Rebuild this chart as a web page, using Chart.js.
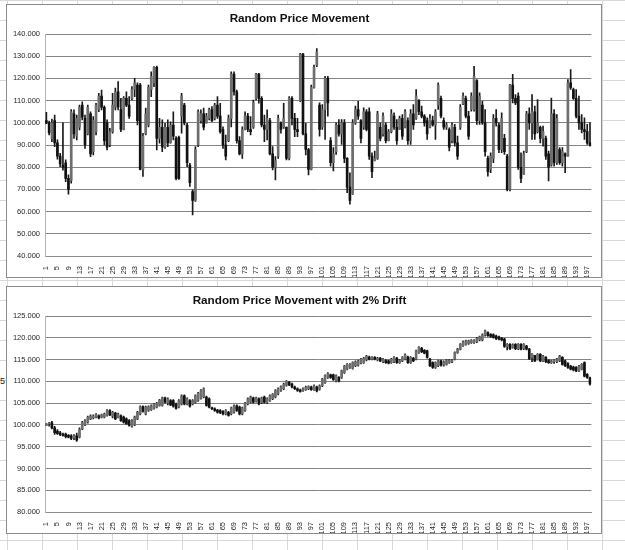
<!DOCTYPE html>
<html>
<head>
<meta charset="utf-8">
<script src="https://cdn.jsdelivr.net/npm/chart.js@4.4.1/dist/chart.umd.min.js"></script>
<style>
html, body { margin: 0; padding: 0; }
body {
  width: 625px; height: 550px; overflow: hidden; position: relative;
  background-color: #fff;
  background-image:
    linear-gradient(to right, #d9d9d9 1px, transparent 1px),
    linear-gradient(to bottom, #d9d9d9 1px, transparent 1px);
  background-size: 35px 20px;
  background-position: 7px 0;
}
.frame { position: absolute; left: 6px; width: 594px; background: #fff; border: 1px solid #8c8c8c; }
#frame1 { top: 4px; height: 272px; }
#frame2 { top: 286px; height: 246px; }
.cell { position: absolute; left: 0; top: 376px; font: 9px "Liberation Sans"; color: #222; }
</style>
</head>
<body>
<div class="cell">5</div>
<div class="frame" id="frame1"><canvas id="priceChart" width="594" height="272"></canvas></div>
<div class="frame" id="frame2"><canvas id="driftChart" width="594" height="246"></canvas></div>

<script>
// day numbers on the x axis
const days = Array.from({ length: 198 }, (_, i) => String(i + 1));

// chart 1 - random price movement (open / high / low / close)
const open1 = [
  101,100,93,101,91,85,81,82,75,74, 104,94,98,108,102,95,104,87,96,106,
  112,107,100,90,96,107,114,106,97,111, 108,111,115,117,117,79,95,99,115,118,
  125,93,98,89,98,91,99,93,93.5,103, 108,99,81,69,65,90,101,104,100,102,
  106,102,108,103,97,90,92,102,122,114, 92,86,97,103,97,98,111,122,111,99,
  97,101,86,80,85,100,98,98,84,111, 102,97,110,131,95,88,79,116,126,108,
  98,106,120,92,82,87,99,95,100,84, 71,68,100,106,101,98,105,105,85,83,
  84,98,95,99,92,96,103,98,97,102, 98,101,92,104,102,110,105,103,101,98,
  101,99,108,111,101,98,97,92,98,91, 98,108.5,111,103,106,106,119,101,108,100,
  84,79,84,102,99,88,93,85,70,117, 111,112,80,77,87,104,100,105,96,98,
  93,93,86,81,104,82,88,82,86,85, 118,115,111,103,100,97,96,91
];
const high1 = [
  104.7,100.8,101.7,103.5,92.3,86.3,100,83.3,76.6,106, 105.8,103.5,108,109.5,103.5,108,105,102.8,108.8,113.3,
  114.8,107.7,101.3,97.5,113.3,115.6,118.6,111,111.8,114, 111.8,116.3,120,118,117.8,95.3,106.6,117,123,125.3,
  125.6,102,101.3,99.8,101.3,100.5,105,93.8,94,113.3, 108.8,99.8,81.8,69.8,89.3,105.8,105.8,106.6,104.3,106.6,
  107.3,108.8,111.8,108.8,98.2,94.5,103.5,123,123,114.8, 93.8,98.2,105,104.3,102.8,110.3,122.3,122.3,111.8,103.5,
  105.8,102,89.3,84.8,103.5,100.5,108.8,98.2,111.8,111.8, 104.3,102,131.3,131.3,99.8,88.5,117,126,133.5,109,
  108.2,121,121,93.3,88.8,100,101.5,101.5,101.5,84.3, 77.5,101.5,107.5,109.7,101.5,106.7,106,106.7,86.5,87.3,
  105.2,100,104.5,100,97,106,104.5,101.5,103,103.7, 106,102.2,106,108.2,115,110.5,107.5,103.7,102.2,103.7,
  103,106,118,112,102.2,100,97.7,100,99.3,94, 108.2,113.5,112,105.2,113.5,125.5,119.5,113.5,109.7,106,
  85,86.5,103.7,106,100,104.5,94.8,85.8,117.3,121.8, 112.7,113.5,86.5,87.3,105.2,106.7,112.7,107.5,110.5,98.5,
  98.5,94,87.3,111.2,106,103.7,88.8,88.8,86.5,119.5, 124,115.7,115,112,103.7,102.2,99.3,100
];
const low1 = [
  99.6,94.5,91.5,89.3,83.6,80.3,78.7,73.5,67.9,72.8, 93,92.3,96.8,101.3,88.5,94.5,84.8,85.5,94.5,105,
  105.8,90,87.8,89.3,95.3,105.8,105.8,96,96.8,107.3, 102,110.3,111.8,99,78.8,75.8,94.5,98.2,111.8,116.3,
  87.8,90.8,87,88.5,89.3,90.8,92.3,74.3,74.5,95.3, 99,80.3,71.3,58.5,64.6,89.3,99.8,96.8,99.8,101.3,
  100.5,101.3,102,95.3,88.5,83.3,91.5,98.2,112.5,90.8, 85.5,84,96.8,96,94.5,97.5,110.3,108.8,98.2,91.5,
  92.3,85.5,78.8,74.3,84,95.3,97.5,83.3,83.3,99, 93.8,93.8,109.5,94.5,85.5,76.5,78.8,115.6,125.3,94,
  97,92.5,103,80.5,78.3,85.8,94,90.3,82,68.5, 63.3,67.8,99.3,101.5,91,97,96.3,83.5,75.3,82.8,
  83.5,91.8,94,91,91.8,95.5,97,90.3,97,92.5, 97.7,90.3,90.3,97,101.5,103.7,102.2,98.5,92.5,97.7,
  98.5,92.5,106,102.2,97,97,87.3,91,89.5,83.5, 97,108.2,102.2,92.5,105.2,105.2,99.3,99.3,99.3,85,
  76,77.5,82,98.5,86.5,86.5,85.8,69.3,69.3,109, 108.2,79,73,76.8,86.5,97,92.5,92.5,95.5,91,
  89.5,83.5,73.8,80.5,80.5,81.3,81.3,80.5,77.5,85, 115,110.5,102.2,97,95.5,92.5,90.3,89.5
];
const close1 = [
  100,95.5,100,91,85,81.5,80,75,70,105, 95,102,107,102.5,90,107,86,101,108,112,
  107,92,89,96,108,114,107,97,111,108, 103,115,118,101,79,94,104,116,121,125,
  93,98,89,98,91,99,94,75,75,112, 100,82,73,65,88,105,104,98,103,106,
  101,108,103,96,90,85,102,122,114,92, 86,97,103,97,96,109,122,111,99,97,
  102,86,80,83,102,97,102,84,111,102, 97,96,131,95,88,79,116,125,132,97,
  106,120,109,82,86,99,95,100,84,71, 65,100,106,103,93,105,97,85,78,84,
  104,93,103,92,96,104,98,92,102,94, 105,92,104,99,112,105,103,100,95,102,
  99,105,117,103,98,99,89,99,91,85, 107,112,103,94,112,121,101,112,100,87,
  78,85,102,100,88,102,87,70,117,111, 109,80,75,86,104,100,105,95,100,93,
  96,85,80,104,82,102,82,87,85,118, 116,111,103,100,97,96,91,90
];

// chart 2 - random price movement with 2% drift
const open2 = [
  99.9,100.2,100.5,99.3,98.6,98.2,97.9,97.9,97.6,97.5, 97,97.5,97.2,99.1,100,100.6,101.4,101.6,101.8,102.1,
  101.8,101.8,102.2,103.3,102,102.7,101.8,102.1,101.8,101.4, 101,99.7,100,101.4,102.5,104.2,102.5,103.3,103.5,103.8,
  104.1,104.5,104.5,106.2,105,105.6,105.6,104.8,104.1,104.8, 106.7,104.8,105.6,104.8,105.2,105.6,106.1,106.4,106.4,106,
  103.9,103.7,103.4,103.3,103.1,102.5,102.9,102.5,102.9,104.4, 104.1,102.5,103.3,104.8,105.2,106.2,105.4,106,105.1,106.4,
  105.1,105.6,106,106.4,107.1,107.9,108.3,109.1,109.8,109.4, 108.7,108.3,108,107.9,108.1,108.3,108.7,108.1,108.7,108.2,
  109,109.7,110.9,111.5,111.5,110.1,110.9,110.9,112,112.8, 113.2,113,113.6,113.7,114.2,114.3,114.9,115.6,115.1,115.5,
  114.9,115.3,114.5,114.8,114.7,114.3,114.5,115.3,114.3,114.7, 115.1,115.6,114.3,115.3,115.1,116.6,117.6,117.1,117,115.1,
  114.3,113.2,113.6,114.7,113.7,113.9,114.3,114.5,115.1,116.6, 117.4,118.2,118.5,118.7,118.9,118.9,119.1,119.5,119.5,120.6,
  121.2,120.8,120.7,120.4,120.2,119.9,119.7,118,118.5,117.8, 118.5,117.5,118.5,117.5,118.1,117.4,115.5,116,114.9,116.2,
  114.7,115.5,114.8,114.3,114.5,114.5,114.7,115.5,114.7,114.1, 113.5,113.3,113.2,112.4,112.8,114.3,111.6,110.8
];
const high2 = [
  100.3,100.6,100.8,99.7,98.9,98.5,98.1,98.1,97.8,97.8, 97.8,98.1,99.3,100.8,101.2,102,102.3,102.3,102.6,102.3,
  102.5,102.7,103.5,103.5,103.1,102.9,102.7,102.3,102,101.6, 101.2,101.2,102,103.1,104.4,104.4,104.3,104.4,104.6,104.9,
  105.2,105.9,106.4,106.4,106.2,105.8,105.8,105,105.8,106.9, 106.9,106.2,105.8,105.8,106.9,107.5,108.1,108.5,106.6,106.2,
  104.1,103.9,103.6,103.5,103.3,103.5,103.1,104.1,104.6,104.6, 104.3,104.1,105.2,106.2,106.6,106.4,106.4,106.2,106.4,106.6,
  106.2,106.9,107.2,108.1,108.5,109,109.6,110.2,110,109.6, 108.9,108.5,108.2,108.5,108.9,109,108.9,109.2,108.9,109.2,
  110.7,111.5,112,111.7,111.7,111.5,111.1,112.6,113.7,114.1, 114.1,114.5,114.7,114.9,115.3,115.5,116,115.8,115.7,115.7,
  115.5,115.5,115.3,115,114.9,115.3,115.7,115.5,115,115.7, 116.3,115.8,115.7,115.5,117.2,118,117.8,117.3,117.2,115.3,
  114.5,114.5,114.9,114.9,114.7,115,115,115,116.8,117.6, 118.7,119.3,119.5,119.5,119.6,119.6,120.1,120.4,120.9,121.8,
  121.4,121,120.9,120.6,120.4,120.1,119.9,118.7,118.7,118.6, 118.7,118.7,118.7,118.7,118.3,117.6,116.4,116,116.4,116.4,
  116,115.7,115,114.9,115,115.3,116,115.7,114.9,114.3, 113.7,113.5,113.4,113.7,114.1,114.5,111.8,111
];
const low2 = [
  99.8,99.7,99.1,97.8,97.8,97.5,97.4,97,97,96.6, 96.6,96.2,97,98.9,99.8,100.4,101.2,101.4,101.6,101.4,
  101.6,101.6,102,102.1,101.6,101.2,101.6,100.8,100.4,100.1, 99.7,99.5,99.8,101.2,102.3,102.9,102.3,103.1,103.3,103.6,
  103.9,104.3,104.3,105,104.6,104.4,104.1,103.6,103.9,104.6, 104.6,104.6,104.1,104.6,105,105.4,105.9,106.2,104.3,103.9,
  103.5,103.1,102.7,102.6,102.3,102.3,102,102.3,102.7,103.1, 102.3,102.3,103.1,104.6,105,105,105.2,104.6,104.9,105,
  104.9,105.4,105.8,106.2,106.9,107.7,108.1,108.9,109,108.5, 108.1,107.7,107.5,107.7,107.9,108.1,107.9,107.9,107.6,108,
  108.8,109.5,110.7,110.7,110.2,109.9,109.9,110.7,111.8,112.6, 113,112.8,113.4,113.5,114,114.1,114.7,114.9,114.9,114.9,
  114.7,114.5,114.3,114.1,114,114.1,114.3,114.1,114.1,114.5, 114.9,114.1,114.1,114.5,114.9,116.4,116.6,116.3,115.3,113.4,
  113,113,113.4,113.5,113.5,113.7,114.1,114.3,114.9,116.4, 117.2,118,118.3,118.5,118.7,118.7,118.9,119.3,119.3,120.4,
  120.3,120.1,119.9,119.6,119.5,119.3,117.8,117.2,117.3,117.6, 117.3,117.3,117.2,117.3,117.2,115,114.5,114.5,114.9,114.5,
  114.5,114.3,114.1,114.1,114.1,114.3,114.5,113.7,113.4,113, 112.6,112.4,112.2,112.2,112.6,111,110.7,109.1
];
const close2 = [
  100.2,100.5,99.3,98.2,98,97.8,97.6,97.3,97.2,96.9, 97.5,96.5,99,100.6,101,101.8,102,102,102.4,101.6,
  102.3,102.5,103.3,102.3,102.9,101.4,102.5,101,100.6,100.3, 99.9,101,101.8,102.9,104.2,103.1,104.1,104.2,104.4,104.7,
  105,105.7,106.2,105.2,106,104.6,104.3,103.8,105.6,106.7, 104.8,106,104.3,105.6,106.7,107.3,107.9,108.3,104.5,104.1,
  103.7,103.3,102.9,102.8,102.5,103.3,102.2,103.9,104.4,103.3, 102.5,103.9,105,106,106.4,105.2,106.2,104.8,106.2,105.2,
  106,106.7,107,107.9,108.3,108.8,109.4,110,109.2,108.7, 108.3,107.9,107.7,108.3,108.7,108.8,108.1,109,107.8,109,
  110.5,111.3,111.8,110.9,110.4,111.3,110.1,112.4,113.5,113.9, 113.9,114.3,114.5,114.7,115.1,115.3,115.8,115.1,115.5,115.1,
  115.3,114.7,115.1,114.3,114.2,115.1,115.5,114.3,114.8,115.5, 116.1,114.3,115.5,114.7,117,117.8,116.8,116.5,115.5,113.6,
  113.2,114.3,114.7,113.7,114.5,114.8,114.8,114.8,116.6,117.4, 118.5,119.1,119.3,119.3,119.4,119.4,119.9,120.2,120.7,121.6,
  120.5,120.3,120.1,119.8,119.7,119.5,118,118.5,117.5,118.4, 117.5,118.5,117.4,118.5,117.4,115.2,116.2,114.7,116.2,114.7,
  115.8,114.5,114.3,114.7,114.9,115.1,115.8,113.9,113.6,113.2, 112.8,112.6,112.4,113.5,113.9,111.2,110.9,109.4
];

const textColor = '#262626';

function makeStockChart(canvasId, title, open, high, low, close, yMin, yMax, yStep) {

  const ctx = document.getElementById(canvasId);

  return new Chart(ctx, {
    type: 'bar',
    data: {
      labels: days,
      datasets: [
        {
          // high - low line
          data: high.map((h, i) => [low[i], h]),
          backgroundColor: '#1a1a1a',
          barThickness: 1,
          grouped: false,
          order: 2
        },
        {
          // up / down bars between open and close
          data: open.map((o, i) => [o, close[i]]),
          backgroundColor: open.map((o, i) => close[i] >= o ? '#6e6e6e' : '#111111'),
          barThickness: 2,
          grouped: false,
          order: 1
        }
      ]
    },
    options: {
      responsive: false,
      animation: false,
      layout: { padding: { left: 0, right: 9, top: 0, bottom: 0 } },
      plugins: {
        legend: { display: false },
        tooltip: { enabled: false },
        title: {
          display: true,
          text: title,
          color: '#111',
          font: { family: 'Liberation Sans', size: 11.7, weight: 'bold' },
          padding: { top: 7, bottom: 8 }
        }
      },
      scales: {
        x: {
          grid: { display: false },
          border: { display: true, color: '#8c8c8c' },
          ticks: {
            autoSkip: false,
            minRotation: 90,
            maxRotation: 90,
            padding: 2,
            color: textColor,
            font: { family: 'Liberation Sans', size: 7.5 },
            callback: function(value, index) {
              return index % 4 === 0 ? days[index] : '';
            }
          },
          afterFit: function(scale) { scale.height = 21; }
        },
        y: {
          min: yMin,
          max: yMax,
          grid: { color: '#858585', drawTicks: false },
          border: { display: true, color: '#b4b4b4', width: 1 },
          ticks: {
            stepSize: yStep,
            padding: 5,
            color: textColor,
            font: { family: 'Liberation Sans', size: 7.5 },
            callback: function(value) {
              return value.toFixed(3);
            }
          },
          afterFit: function(scale) { scale.width = 38; }
        }
      }
    }
  });
}

makeStockChart('priceChart', 'Random Price Movement', open1, high1, low1, close1, 40, 140, 10);
makeStockChart('driftChart', 'Random Price Movement with 2% Drift', open2, high2, low2, close2, 80, 125, 5);
</script>
</body>
</html>
